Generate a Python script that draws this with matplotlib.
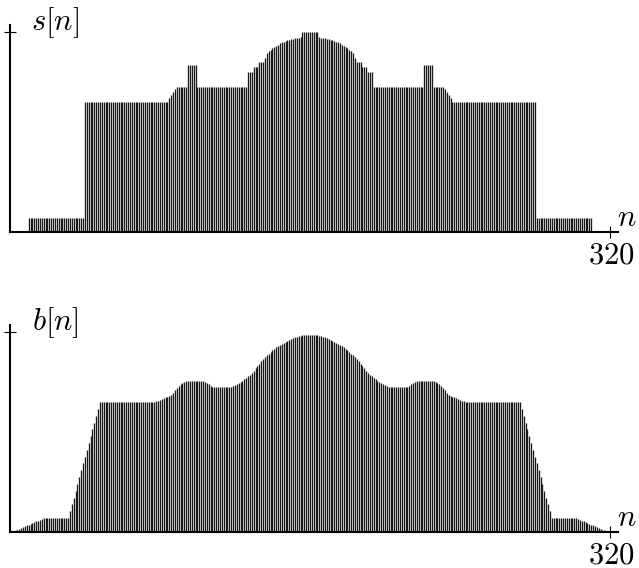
import numpy as np
import matplotlib
matplotlib.use("Agg")
import matplotlib.pyplot as plt

plt.rcParams["mathtext.fontset"] = "cm"

# ---------------------------------------------------------------- data
n_max = 320
n = np.arange(n_max + 1)

# skyline profile s[n]
s_dome = ([160, 160, 160, 165, 165, 165, 170, 170, 170, 174,
           179, 181, 182.5, 184, 185, 186.5, 187.5, 189, 190, 190.5,
           191, 192, 192.5, 193, 193.5, 194, 194, 194.5, 195]
          + [200] * 9
          + [195, 194.5, 194, 194, 193.5, 193, 192.5, 192, 191, 190.5,
             190, 189, 187.5, 186.5, 185, 184, 182.5, 181, 179,
             174, 170, 170, 170, 165, 165, 165, 160, 160, 160])

s_values = ([0] * 10 + [14] * 30 + [130] * 45 + [134, 137, 140, 143]
            + [145] * 6 + [167] * 5 + [145] * 27
            + s_dome
            + [145] * 27 + [167] * 5 + [145] * 6 + [143, 140, 137, 134]
            + [130] * 45 + [14] * 30 + [0] * 10)

# smoothed profile b[n]
b_values = ([0, 0, 0.8, 1.6, 2.5, 3.3, 4.1, 4.9, 5.8, 6.6, 7.4, 8.2, 9.1,
             9.9, 10.7, 11.5, 12.4, 13.2]
            + [14] * 14
            + [20.8, 27.6, 34.5, 41.3, 48.1, 54.9, 61.8, 68.6, 75.4, 82.2,
               89.1, 95.9, 102.7, 109.5, 116.4, 123.2]
            + [130] * 29
            + [130.2, 130.6, 131.2, 132.0, 132.9, 133.8, 134.6, 135.5, 136.4,
               137.3, 139.5, 141.6, 143.8, 146.0, 148.2, 149.1, 149.9, 150.6,
               151.1, 151.4]
            + [151.5] * 7
            + [150.2, 148.9, 147.6, 146.3]
            + [145] * 11
            + [145.9, 146.8, 147.6, 148.8, 150.0, 151.2, 152.6, 154.1, 155.6,
               157.3, 159.3, 161.4, 163.6, 165.9, 168.3, 170.7, 173.2, 174.9,
               176.7, 178.5, 180.0, 181.6, 183.2, 184.6, 185.9, 187.4, 188.5,
               189.4, 190.3, 191.3, 192.2, 193.1, 193.9, 194.6, 195.3, 195.9,
               196.4, 197.0, 197.2, 197.3, 197.3, 197.4]
            + [197.3, 197.3, 197.2, 197.0, 196.4, 195.9, 195.3, 194.6, 193.9,
               193.1, 192.2, 191.3, 190.3, 189.4, 188.5, 187.4, 185.9, 184.6,
               183.2, 181.6, 180.0, 178.5, 176.7, 174.9, 173.2, 170.7, 168.3,
               165.9, 163.6, 161.4, 159.3, 157.3, 155.6, 154.1, 152.6, 151.2,
               150.0, 148.8, 147.6, 146.8, 145.9]
            + [145] * 11
            + [146.3, 147.6, 148.9, 150.2]
            + [151.5] * 7
            + [151.4, 151.1, 150.6, 149.9, 149.1, 148.2, 146.0, 143.8, 141.6,
               139.5, 137.3, 136.4, 135.5, 134.6, 133.8, 132.9, 132.0, 131.2,
               130.6, 130.2]
            + [130] * 29
            + [123.2, 116.4, 109.5, 102.7, 95.9, 89.1, 82.2, 75.4, 68.6, 61.8,
               54.9, 48.1, 41.3, 34.5, 27.6, 20.8]
            + [14] * 14
            + [13.2, 12.4, 11.5, 10.7, 9.9, 9.1, 8.2, 7.4, 6.6, 5.8, 4.9, 4.1,
               3.3, 2.5, 1.6, 0.8, 0, 0])

y_tick = 200
x_tick_label = "$320$"

# ---------------------------------------------------------------- figure
W, H = 639, 568
fig = plt.figure(figsize=(W / 100, H / 100), dpi=100)

x_hi = 324.3   # axis runs slightly past the last sample
y_hi = 207


def panel(base_px, values, ylabel):
    ax = fig.add_axes([10 / W, (H - base_px) / H, 608 / W, y_hi / H])
    ax.vlines(n, 0, values, colors="#1a1a1a", linewidth=0.95)
    ax.set_xlim(0, x_hi)
    ax.set_ylim(0, y_hi)
    for side in ("top", "right"):
        ax.spines[side].set_visible(False)
    for side in ("left", "bottom"):
        ax.spines[side].set_linewidth(1.5)
        ax.spines[side].set_zorder(3)
    ax.set_xticks([n_max])
    ax.set_yticks([y_tick])
    ax.set_xticklabels([])
    ax.set_yticklabels([])
    ax.tick_params(direction="inout", length=9, width=0.8)
    ax.patch.set_alpha(0)

    fig.text(55 / W, 1 - (base_px - 209) / H, ylabel, fontsize=22,
             ha="center", va="center")
    fig.text(627 / W, 1 - (base_px - 14.5) / H, "$n$", fontsize=22,
             ha="center", va="center")
    fig.text(611 / W, 1 - (base_px + 23) / H, x_tick_label, fontsize=22,
             ha="center", va="center")
    return ax


panel(232, s_values, "$s[n]$")
panel(532, b_values, "$b[n]$")

fig.savefig("out.png", dpi=100)
